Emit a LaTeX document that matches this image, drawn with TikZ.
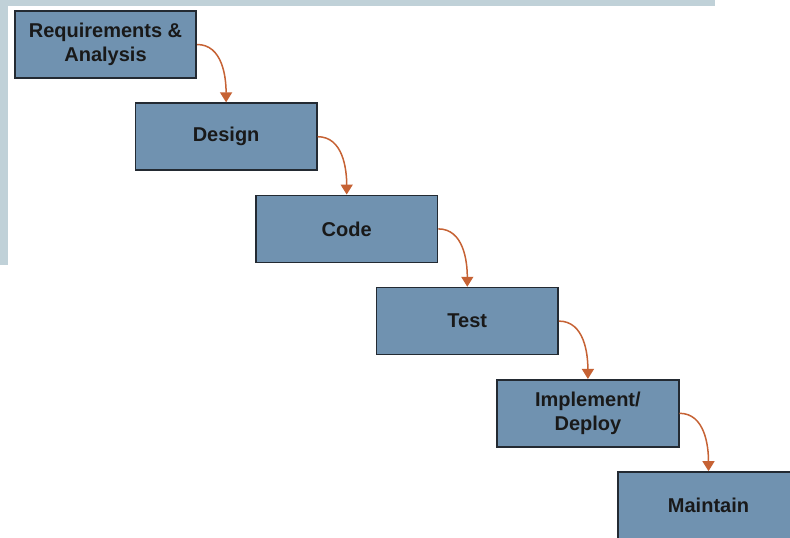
\documentclass[tikz,border=0pt]{standalone}
\usepackage{fontspec}
\setmainfont{Liberation Sans}
\usetikzlibrary{arrows.meta, positioning}
\definecolor{phasefill}{RGB}{112,146,176}
\definecolor{phaseedge}{RGB}{35,42,50}
\definecolor{flowcolor}{RGB}{198,98,52}
\definecolor{screenstrip}{RGB}{192,209,216}
\tikzset{
  phase/.style={
    draw=phaseedge, rectangle,
    minimum width=181.5pt, minimum height=67pt,
    fill=phasefill, font=\fontsize{20}{24}\selectfont\bfseries,
    align=center, text=black!90,
    line width=1.7pt
  },
  flow/.style={-{Triangle[width=12pt,length=10pt]}, draw=flowcolor, line width=1.5pt}
}

\begin{document}
\begin{tikzpicture}[node distance=92.2pt and 120.6pt, on grid]
  \useasboundingbox (0,0) rectangle (790pt,-538pt);
  \clip (0,0) rectangle (790pt,-538pt);
  \fill[white] (0,0) rectangle (790pt,-538pt);
  % screenshot edges
  \fill[screenstrip] (0,0) rectangle (715pt,-6pt);
  \fill[screenstrip] (0,0) rectangle (8pt,-265pt);

  \node[phase] (req) at (105.5pt,-44.5pt) {Requirements \&\\Analysis};
  \node[phase, below right=of req]    (design)   {Design};
  \node[phase, below right=of design] (code)     {Code};
  \node[phase, below right=of code]   (test)     {Test};
  \node[phase, below right=of test]   (deploy)   {Implement/\\Deploy};
  \node[phase, below right=of deploy] (maintain) {Maintain};

  % waterfall steps
  \foreach \from/\to in {req/design, design/code, code/test, test/deploy, deploy/maintain}
    \draw[flow] (\from.east) to[out=0, in=90] (\to.north);
\end{tikzpicture}
\end{document}
